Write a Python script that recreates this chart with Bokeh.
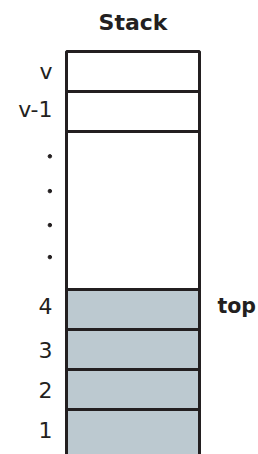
from bokeh.plotting import figure
from bokeh.models import Range1d, ColumnDataSource
from bokeh.core.properties import value
from bokeh.embed import file_html
from bokeh.resources import INLINE

# --- data ---
cell_labels = ["1", "2", "3", "4", "", "v-1", "v"]
cell_bottom = [-1, 1, 2, 3, 4, 7.95, 8.95]   # cell 1 continues past the bottom edge
cell_top = [1, 2, 3, 4, 7.95, 8.95, 9.95]
cell_label_y = [0.5, 1.5, 2.5, 3.6, 6.0, 8.5, 9.45]
cell_filled = [True, True, True, True, False, False, False]
dot_y = [7.33, 6.46, 5.61, 4.81]
pointer_label = "top"
pointer_cell = "4"
title_text = "Stack"

FILL = "#BCC9D0"
LINE = "#231F20"
FONT = "DejaVu Sans"

p = figure(width=258, height=454, output_backend="svg", toolbar_location=None,
           x_range=Range1d(-0.4962, 1.4436), y_range=Range1d(-0.125, 11.225),
           min_border=0, outline_line_color=None)
p.axis.visible = False
p.grid.visible = False
p.background_fill_color = "white"
p.border_fill_color = "white"

colors = [FILL if f else "white" for f in cell_filled]
src = ColumnDataSource(dict(
    left=[0] * len(cell_labels), right=[1] * len(cell_labels),
    bottom=cell_bottom, top=cell_top, color=colors, label=cell_labels,
    ymid=cell_label_y,
    lx=[-0.105] * len(cell_labels),
))
p.quad(left="left", right="right", bottom="bottom", top="top", source=src,
       fill_color="color", line_color=LINE, line_width=3)

p.text(x="lx", y="ymid", text="label", source=src, text_align="right",
       text_baseline="middle", text_font=value(FONT), text_font_size="22px",
       text_color=LINE)

p.scatter(x=[-0.125] * len(dot_y), y=dot_y, size=3.5, color=LINE)

idx = cell_labels.index(pointer_cell)
p.text(x=[1.135], y=[cell_label_y[idx]], text=[pointer_label], text_align="left",
       text_baseline="middle", text_font=value(FONT), text_font_size="20.5px",
       text_font_style="bold", text_color=LINE)

p.text(x=[0.5], y=[10.675], text=[title_text], text_align="center",
       text_baseline="middle", text_font=value(FONT), text_font_size="22px",
       text_font_style="bold", text_color=LINE)

open("out.html", "w").write(file_html(p, INLINE))
